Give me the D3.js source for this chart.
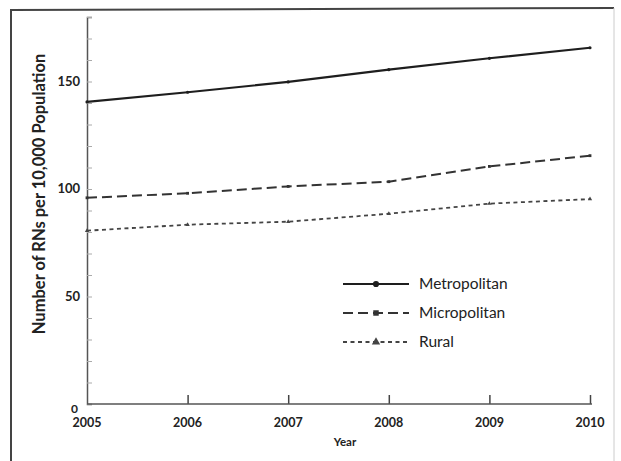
<!DOCTYPE html>
<html><head><meta charset="utf-8">
<script src="https://cdn.jsdelivr.net/npm/d3@7"></script>
<style>body{margin:0;background:#fff}svg{display:block}text{font-family:Lato,"Open Sans",sans-serif;fill:#222}</style>
</head><body><svg id="c" width="621" height="461"></svg>
<script>
const years = [2005, 2006, 2007, 2008, 2009, 2010];
const metropolitan = [140.5, 145, 149.8, 155.5, 160.8, 165.7];
const micropolitan = [95.9, 98, 101.2, 103.4, 110.5, 115.5];
const rural = [80.6, 83.4, 84.8, 88.5, 93.2, 95.3];
const seriesNames = ["Metropolitan", "Micropolitan", "Rural"];
const yTickLabels = [0, 50, 100, 150];
const yMinorTicks = d3.range(0, 181, 10);

const svg = d3.select("#c");
const x = d3.scaleLinear().domain([2005, 2010]).range([87, 590]);
const y = d3.scaleLinear().domain([0, 180]).range([404, 17]);

// frame
svg.append("path").attr("d", "M11,470 L11,10 L614,8").attr("fill", "none").attr("stroke", "#444").attr("stroke-width", 2);
svg.append("line").attr("x1", 614).attr("y1", 8).attr("x2", 614).attr("y2", 470).attr("stroke", "#ccc").attr("stroke-width", 1);

// y axis with minor ticks
const yAx = svg.append("g").attr("transform", "translate(87,0)")
  .call(d3.axisRight(y).tickValues(yMinorTicks).tickSize(5).tickFormat(""));
yAx.select(".domain").attr("stroke", "#555").attr("stroke-width", 1.5);
yAx.selectAll(".tick line").attr("stroke", "#aaa");
svg.append("g").selectAll("text").data(yTickLabels).join("text")
  .attr("x", d => d === 0 ? 78 : 80).attr("y", d => d === 0 ? 413 : y(d) + 4).attr("text-anchor", "end")
  .attr("font-size", d => d === 0 ? 12 : 13).attr("font-weight", "bold").text(d => d);

// x axis
const xAx = svg.append("g").attr("transform", "translate(0,404)")
  .call(d3.axisTop(x).tickValues(years.slice(1)).tickSize(9).tickFormat(""));
xAx.select(".domain").remove();
svg.append("line").attr("x1", 87).attr("x2", 592).attr("y1", 404).attr("y2", 404).attr("stroke", "#555").attr("stroke-width", 1.5);
xAx.selectAll(".tick line").attr("stroke", "#444").attr("stroke-width", 1.5);
svg.append("g").selectAll("text").data(years).join("text")
  .attr("x", d => x(d)).attr("y", 427).attr("text-anchor", "middle")
  .attr("font-size", 12.5).attr("font-weight", "bold").text(d => d);

svg.append("text").attr("x", 345).attr("y", 446).attr("text-anchor", "middle")
  .attr("font-size", 11.5).attr("font-weight", "bold").text("Year");
svg.append("text").attr("transform", "translate(45,194) rotate(-90)").attr("text-anchor", "middle")
  .attr("font-size", 16.5).attr("font-weight", "bold").text("Number of RNs per 10,000 Population");

const styles = [
  {data: metropolitan, dash: null, color: "#1e1e1e", w: 2.2, marker: d3.symbolCircle},
  {data: micropolitan, dash: "10,5", color: "#333", w: 2, marker: d3.symbolSquare},
  {data: rural, dash: "4,3.5", color: "#444", w: 1.8, marker: d3.symbolTriangle}
];
const line = d3.line().x((d, i) => x(years[i])).y(d => y(d));
styles.forEach(s => {
  svg.append("path").datum(s.data).attr("d", line).attr("fill", "none")
    .attr("stroke", s.color).attr("stroke-width", s.w).attr("stroke-dasharray", s.dash);
  svg.append("g").selectAll("path").data(s.data).join("path")
    .attr("transform", (d, i) => `translate(${x(years[i])},${y(d)})`)
    .attr("d", d3.symbol().type(s.marker).size(8)).attr("fill", s.color);
});

// legend
const legY = [284, 313, 342];
styles.forEach((s, i) => {
  svg.append("line").attr("x1", 343).attr("x2", 409).attr("y1", legY[i]).attr("y2", legY[i])
    .attr("stroke", s.color).attr("stroke-width", s.w).attr("stroke-dasharray", s.dash);
  svg.append("path").attr("transform", `translate(376,${legY[i]})`)
    .attr("d", d3.symbol().type(s.marker).size(30)).attr("fill", s.color);
  svg.append("text").attr("x", 419).attr("y", legY[i] + 5).attr("font-size", 15.5).text(seriesNames[i]);
});
</script></body></html>
